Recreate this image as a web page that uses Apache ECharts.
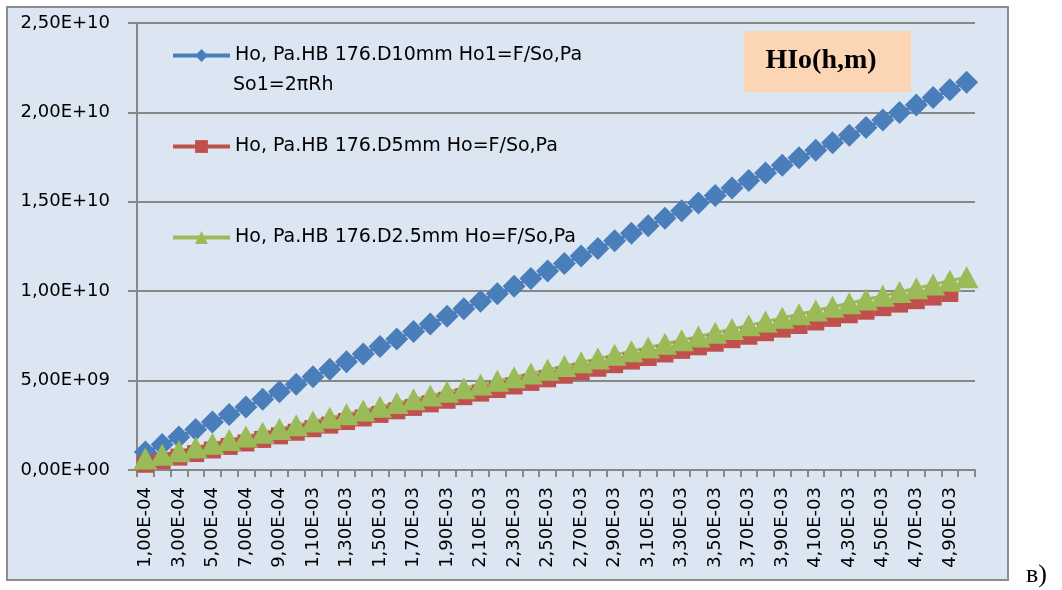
<!DOCTYPE html>
<html>
<head>
<meta charset="utf-8">
<title>HIo(h,m)</title>
<script src="https://cdn.jsdelivr.net/npm/echarts@6/dist/echarts.min.js"></script>
<style>
  html, body { margin: 0; padding: 0; background: #ffffff; }
  #chart { width: 1062px; height: 590px; }
</style>
</head>
<body>
<div id="chart"></div>
<script>
// Indentation depth h, m
const categories = [
  '1,00E-04','2,00E-04','3,00E-04','4,00E-04','5,00E-04','6,00E-04','7,00E-04','8,00E-04','9,00E-04','1,00E-03',
  '1,10E-03','1,20E-03','1,30E-03','1,40E-03','1,50E-03','1,60E-03','1,70E-03','1,80E-03','1,90E-03','2,00E-03',
  '2,10E-03','2,20E-03','2,30E-03','2,40E-03','2,50E-03','2,60E-03','2,70E-03','2,80E-03','2,90E-03','3,00E-03',
  '3,10E-03','3,20E-03','3,30E-03','3,40E-03','3,50E-03','3,60E-03','3,70E-03','3,80E-03','3,90E-03','4,00E-03',
  '4,10E-03','4,20E-03','4,30E-03','4,40E-03','4,50E-03','4,60E-03','4,70E-03','4,80E-03','4,90E-03','5,00E-03'
];

const yTickLabels = ['0,00E+00', '5,00E+09', '1,00E+10', '1,50E+10', '2,00E+10', '2,50E+10'];

const nameD10 = 'Ho, Pa.HB 176.D10mm Ho1=F/So,Pa';
const nameD10Line2 = 'So1=2πRh';
const nameD5 = 'Ho, Pa.HB 176.D5mm Ho=F/So,Pa';
const nameD25 = 'Ho, Pa.HB 176.D2.5mm Ho=F/So,Pa';

// Ho, Pa — ball D = 10 mm
const hoD10 = [
  1.00e9, 1.42e9, 1.84e9, 2.27e9, 2.69e9, 3.11e9, 3.53e9, 3.95e9, 4.38e9, 4.80e9,
  5.22e9, 5.64e9, 6.06e9, 6.49e9, 6.91e9, 7.33e9, 7.75e9, 8.17e9, 8.60e9, 9.02e9,
  9.44e9, 9.86e9, 10.28e9, 10.71e9, 11.13e9, 11.55e9, 11.97e9, 12.39e9, 12.82e9, 13.24e9,
  13.66e9, 14.08e9, 14.50e9, 14.93e9, 15.35e9, 15.77e9, 16.19e9, 16.61e9, 17.04e9, 17.46e9,
  17.88e9, 18.30e9, 18.72e9, 19.15e9, 19.57e9, 19.99e9, 20.41e9, 20.83e9, 21.26e9, 21.68e9
];

// Ho, Pa — ball D = 5 mm
const hoD5 = [
  0.32e9, 0.52e9, 0.72e9, 0.92e9, 1.12e9, 1.32e9, 1.51e9, 1.71e9, 1.91e9, 2.11e9,
  2.31e9, 2.51e9, 2.71e9, 2.91e9, 3.11e9, 3.31e9, 3.50e9, 3.70e9, 3.90e9, 4.10e9,
  4.30e9, 4.50e9, 4.70e9, 4.90e9, 5.10e9, 5.30e9, 5.49e9, 5.69e9, 5.89e9, 6.09e9,
  6.29e9, 6.49e9, 6.69e9, 6.89e9, 7.09e9, 7.29e9, 7.48e9, 7.68e9, 7.88e9, 8.08e9,
  8.28e9, 8.48e9, 8.68e9, 8.88e9, 9.08e9, 9.28e9, 9.47e9, 9.67e9, 9.87e9
];

// Ho, Pa — ball D = 2.5 mm
const hoD25 = [
  0.64e9, 0.85e9, 1.05e9, 1.26e9, 1.47e9, 1.68e9, 1.88e9, 2.09e9, 2.30e9, 2.50e9,
  2.71e9, 2.92e9, 3.12e9, 3.33e9, 3.54e9, 3.75e9, 3.95e9, 4.16e9, 4.37e9, 4.57e9,
  4.78e9, 4.99e9, 5.19e9, 5.40e9, 5.61e9, 5.82e9, 6.02e9, 6.23e9, 6.44e9, 6.64e9,
  6.85e9, 7.06e9, 7.26e9, 7.47e9, 7.68e9, 7.89e9, 8.09e9, 8.30e9, 8.51e9, 8.71e9,
  8.92e9, 9.13e9, 9.33e9, 9.54e9, 9.75e9, 9.96e9, 10.16e9, 10.37e9, 10.58e9, 10.78e9
];

const BLUE = '#4a7ebb';
const RED = '#c0504d';
const GREEN = '#9bbb59';
const GRID_GREY = '#878787';
const FONT = 'DejaVu Sans';

const chart = echarts.init(document.getElementById('chart'), null, { renderer: 'canvas' });

const legendBase = {
  orient: 'vertical',
  left: 171,
  padding: 0,
  itemWidth: 57,
  itemHeight: 16,
  itemGap: 0,
  selectedMode: false,
  textStyle: { fontFamily: FONT, fontSize: 19, color: '#000000' },
  lineStyle: { width: 4 }
};

chart.setOption({
  animation: false,
  backgroundColor: '#ffffff',
  graphic: [
    {
      type: 'rect', z: -100, silent: true,
      shape: { x: 7, y: 7, width: 1001, height: 573 },
      style: { fill: '#dce6f2', stroke: '#8c8c8c', lineWidth: 2 }
    },
    {
      type: 'rect', z: 10, silent: true,
      shape: { x: 744, y: 31, width: 167, height: 61 },
      style: { fill: '#fcd5b5' }
    },
    {
      type: 'text', z: 11, silent: true,
      x: 821, y: 61,
      style: {
        text: 'HIo(h,m)', fill: '#000000',
        font: 'bold 28px "Liberation Serif"',
        textAlign: 'center', textVerticalAlign: 'middle'
      }
    },
    {
      type: 'text', z: 11, silent: true,
      x: 233, y: 85,
      style: {
        text: nameD10Line2, fill: '#000000',
        font: '19px "DejaVu Sans"',
        textAlign: 'left', textVerticalAlign: 'middle'
      }
    },
    {
      type: 'text', z: 11, silent: true,
      x: 1026, y: 575,
      style: {
        text: 'в)', fill: '#000000',
        font: '26px "Liberation Serif"',
        textAlign: 'left', textVerticalAlign: 'middle'
      }
    }
  ],
  legend: [
    Object.assign({}, legendBase, { top: 46, data: [nameD10] }),
    Object.assign({}, legendBase, { top: 137, data: [nameD5] }),
    Object.assign({}, legendBase, { top: 228, data: [nameD25] })
  ],
  grid: { left: 137, right: 87, top: 23, bottom: 120, containLabel: false },
  xAxis: {
    type: 'category',
    data: categories,
    boundaryGap: true,
    axisLine: { show: true, lineStyle: { color: GRID_GREY, width: 2 } },
    axisTick: { show: true, interval: 0, length: 7, lineStyle: { color: GRID_GREY, width: 2 } },
    axisLabel: {
      interval: 1, rotate: 90, margin: 17,
      fontFamily: FONT, fontSize: 18, color: '#000000'
    },
    splitLine: { show: false }
  },
  yAxis: {
    type: 'value',
    min: 0, max: 2.5e10, interval: 5e9,
    axisLine: { show: true, lineStyle: { color: GRID_GREY, width: 2 } },
    axisTick: { show: true, length: 9, lineStyle: { color: GRID_GREY, width: 2 } },
    axisLabel: {
      margin: 27, fontFamily: FONT, fontSize: 18, color: '#000000',
      formatter: function (v) { return yTickLabels[Math.round(v / 5e9)]; }
    },
    splitLine: { show: true, lineStyle: { color: GRID_GREY, width: 2 } }
  },
  series: [
    {
      name: nameD10, type: 'line', data: hoD10,
      symbol: 'diamond', symbolSize: 23, showAllSymbol: true,
      lineStyle: { color: BLUE, width: 3 },
      itemStyle: { color: BLUE }
    },
    {
      name: nameD5, type: 'line', data: hoD5,
      symbol: 'rect', symbolSize: 17, showAllSymbol: true,
      lineStyle: { color: RED, width: 3 },
      itemStyle: { color: RED }
    },
    {
      name: nameD25, type: 'line', data: hoD25,
      symbol: 'triangle', symbolSize: [24, 22], showAllSymbol: true,
      lineStyle: { color: GREEN, width: 3 },
      itemStyle: { color: GREEN }
    }
  ]
});
</script>
</body>
</html>
